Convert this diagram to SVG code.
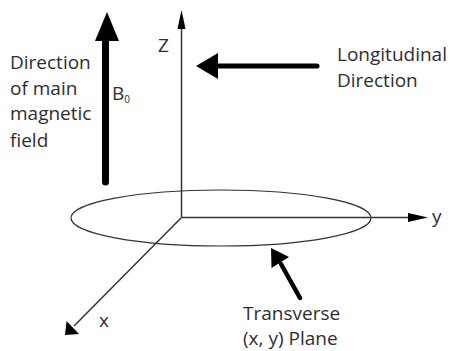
<svg xmlns="http://www.w3.org/2000/svg" width="450" height="351" viewBox="0 0 450 351">
  <style>
    .t { font-family: "Open Sans", "Liberation Sans", sans-serif; font-size: 19px; fill: #2e2e2e; }
    .axis { stroke: #333; stroke-width: 1.5; fill: none; }
    .thick { stroke: #000; fill: none; stroke-linecap: round; }
    .head { fill: #000; }
  </style>
  <rect width="450" height="351" fill="#fff"/>

  <g id="plane">
    <ellipse cx="221" cy="218" rx="150" ry="28" fill="none" stroke="#333" stroke-width="1.2"/>
  </g>

  <g id="connectors">
    <!-- z axis -->
    <line class="axis" x1="181.5" y1="217" x2="181.5" y2="26"/>
    <polygon class="head" points="181.5,10 177.5,29 185.5,29"/>
    <!-- y axis -->
    <line class="axis" x1="181.5" y1="217.5" x2="412" y2="217.5"/>
    <polygon class="head" points="428,217.5 408,213 408,222"/>
    <!-- x axis -->
    <line class="axis" x1="181.5" y1="217.5" x2="74" y2="326"/>
    <polygon class="head" points="65,335 66.5,321 79,334"/>
    <!-- B0 arrow -->
    <line class="thick" stroke-width="7" x1="105.5" y1="182" x2="105.5" y2="38"/>
    <polygon class="head" points="107,12 95,41 119,41"/>
    <!-- Longitudinal arrow -->
    <line class="thick" stroke-width="5" stroke-linecap="butt" x1="317" y1="66" x2="214" y2="66"/>
    <polygon class="head" points="196,66 218,53 218,79"/>
    <!-- Transverse arrow -->
    <line class="thick" stroke-width="4.5" stroke-linecap="butt" x1="300" y1="298" x2="281" y2="264"/>
    <polygon class="head" points="271,248 289,257 271.5,268"/>
  </g>

  <g id="label-b0field">
    <text class="t" x="10" y="69">Direction</text>
    <text class="t" x="10" y="95">of main</text>
    <text class="t" x="10" y="120">magnetic</text>
    <text class="t" x="10" y="147">field</text>
    <text class="t" x="112" y="100" font-size="13">B<tspan font-size="10" dy="3">0</tspan></text>
  </g>

  <g id="label-z">
    <text class="t" x="158" y="52" font-size="17">Z</text>
  </g>

  <g id="label-longitudinal">
    <text class="t" x="337" y="61">Longitudinal</text>
    <text class="t" x="337" y="87">Direction</text>
  </g>

  <g id="label-y">
    <text class="t" x="432" y="223">y</text>
  </g>

  <g id="label-x">
    <text class="t" x="99" y="327">x</text>
  </g>

  <g id="label-transverse">
    <text class="t" x="243" y="320">Transverse</text>
    <text class="t" x="243" y="345">(x, y) Plane</text>
  </g>
</svg>
